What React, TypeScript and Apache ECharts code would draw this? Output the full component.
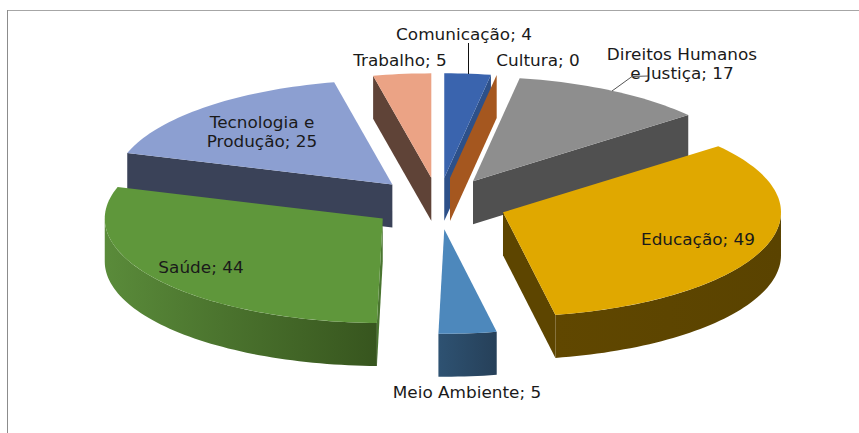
import React, { useEffect, useRef } from "react";
import * as echarts from "echarts";

const categories = [
  "Comunicação",
  "Cultura",
  "Direitos Humanos\ne Justiça",
  "Educação",
  "Meio Ambiente",
  "Saúde",
  "Tecnologia e\nProdução",
  "Trabalho",
];
const values = [4, 0, 17, 49, 5, 44, 25, 5];

// Styles, one per slice: top, cut face, outer wall gradient (left, right)
const topColors = ["#3A64AE", "#A5571F", "#8E8E8E", "#E0A800", "#4D88BC", "#5F973B", "#8C9FD1", "#EBA385"];
const faceColors = ["#2D5089", "#A5571F", "#505050", "#5D4500", "#2E5272", "#4A7530", "#3A4258", "#5F4337"];
const wallLeft = ["#2D5089", "#A5571F", "#505050", "#604700", "#2E5272", "#5A8B3A", "#3A4258", "#5F4337"];
const wallRight = ["#2D5089", "#A5571F", "#505050", "#5A4300", "#264059", "#37551E", "#3A4258", "#5F4337"];

// Label layout (centre of the text block, in pixels)
const labelCentres = [
  [464, 35],
  [538, 61],
  [682, 64],
  [698, 240],
  [467, 393],
  [201, 268],
  [262, 132],
  [400, 61],
];

// Projection of the tilted pie
const CX = 438.5;
const CY = 203.5;
const RX = 278;
const RY = 104.5;
const DEPTH = 43;
const EXPLODE = 68.6;
const TILT = RY / RX;
const LABEL_STRETCH = 1.125;

const total = values.reduce((a, b) => a + b, 0);
const starts: number[] = [];
values.reduce((acc, v, i) => {
  starts[i] = acc;
  return acc + v;
}, 0);

const rad = (d: number) => (d * Math.PI) / 180;

function arcPoints(tx: number, ty: number, a0: number, a1: number, dy = 0): number[][] {
  const pts: number[][] = [];
  const n = Math.max(1, Math.ceil(Math.abs(a1 - a0) / 1.5));
  for (let i = 0; i <= n; i++) {
    const a = rad(a0 + ((a1 - a0) * i) / n);
    pts.push([tx + RX * Math.sin(a), ty - RY * Math.cos(a) + dy]);
  }
  return pts;
}

function renderItem(params: any, api: any) {
  const i = api.value(0);
  const v = api.value(1);
  const a0 = (starts[i] / total) * 360;
  const a1 = a0 + (v / total) * 360;
  const mid = rad((a0 + a1) / 2);
  const tx = CX + EXPLODE * Math.sin(mid);
  const ty = CY - EXPLODE * TILT * Math.cos(mid);
  const z = Math.round(ty * 2);
  const children: any[] = [];

  const poly = (points: number[][], fill: any, z2: number) =>
    children.push({ type: "polygon", shape: { points }, style: { fill, stroke: "none" }, z2 });

  const edgeFace = (a: number) => {
    const p = arcPoints(tx, ty, a, a)[0];
    poly(
      [
        [tx, ty],
        p,
        [p[0], p[1] + DEPTH],
        [tx, ty + DEPTH],
      ],
      faceColors[i],
      z
    );
  };

  // cut faces turned towards the viewer
  if (Math.sin(rad(a0)) < 0) edgeFace(a0);
  if (Math.sin(rad(a1)) > 0) edgeFace(a1);

  // outer wall: only the front half of the rim shows
  const w0 = Math.max(a0, 90);
  const w1 = Math.min(a1, 270);
  if (w1 > w0) {
    const upper = arcPoints(tx, ty, w0, w1);
    const lower = arcPoints(tx, ty, w1, w0, DEPTH);
    poly(
      upper.concat(lower),
      new echarts.graphic.LinearGradient(0, 0, 1, 0, [
        { offset: 0, color: wallLeft[i] },
        { offset: 1, color: wallRight[i] },
      ]),
      z + 1
    );
  }

  // top surface
  if (v > 0) {
    poly([[tx, ty] as number[]].concat(arcPoints(tx, ty, a0, a1)), topColors[i], z + 2);
  }

  // data label
  const [lx, ly] = labelCentres[i];
  children.push({
    type: "text",
    x: lx,
    y: ly,
    scaleX: LABEL_STRETCH,
    z2: 5000,
    style: {
      text: `${categories[i]}; ${v}`,
      fill: "#1A1A1A",
      font: '15px "DejaVu Sans"',
      lineHeight: 19,
      align: "center",
      verticalAlign: "middle",
    },
  });

  return { type: "group", children };
}

export default function App() {
  const ref = useRef<HTMLDivElement>(null);
  useEffect(() => {
    const chart = echarts.init(ref.current!, null, { renderer: "svg" });
    chart.setOption({
      animation: false,
      backgroundColor: "#FFFFFF",
      graphic: [
        { type: "line", z: 10, shape: { x1: 7, y1: 10.5, x2: 859, y2: 10.5 }, style: { stroke: "#A6A6A6", lineWidth: 1 } },
        { type: "line", z: 10, shape: { x1: 7.5, y1: 10, x2: 7.5, y2: 433 }, style: { stroke: "#8C8C8C", lineWidth: 1 } },
        { type: "line", z: 10, shape: { x1: 468.5, y1: 43, x2: 468.5, y2: 74 }, style: { stroke: "#111111", lineWidth: 1 } },
        { type: "polyline", z: 10, shape: { points: [[612, 91], [632, 76.5], [648, 76]] }, style: { stroke: "#555555", lineWidth: 1, fill: "none" } },
      ],
      series: [
        {
          type: "custom",
          coordinateSystem: "none",
          renderItem,
          data: values.map((v, i) => [i, v]),
        },
      ],
    });
    return () => chart.dispose();
  }, []);
  return <div ref={ref} style={{ position: "fixed", left: 0, top: 0, width: 859, height: 433 }} />;
}
